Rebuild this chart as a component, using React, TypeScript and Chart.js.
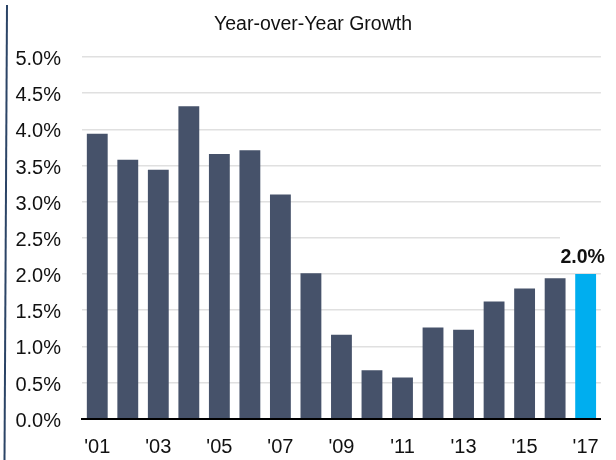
import React, { useEffect, useRef } from "react";
import { Chart, registerables } from "chart.js";

Chart.register(...registerables);

const categories = ["'01", "'02", "'03", "'04", "'05", "'06", "'07", "'08", "'09", "'10", "'11", "'12", "'13", "'14", "'15", "'16", "'17"];
const growth = [3.94, 3.58, 3.44, 4.32, 3.66, 3.71, 3.10, 2.01, 1.16, 0.67, 0.57, 1.26, 1.23, 1.62, 1.80, 1.94, 2.0];
const yTicks = [0, 0.5, 1, 1.5, 2, 2.5, 3, 3.5, 4, 4.5, 5];
const titleText = "Year-over-Year Growth";
const highlightLabel = "2.0%";

const BAR = "#46526A";
const HIGHLIGHT = "#00AEEF";
const FONT = "'Liberation Sans', Arial, sans-serif";

export default function App() {
  const ref = useRef<HTMLCanvasElement | null>(null);

  useEffect(() => {
    if (!ref.current) return;
    const colors = growth.map((_, i) => (i === growth.length - 1 ? HIGHLIGHT : BAR));

    const decor = {
      id: "decor",
      beforeDatasetsDraw(chart: any) {
        const ctx = chart.ctx;
        const meta = chart.getDatasetMeta(0);
        const bar = meta.data[meta.data.length - 1];
        ctx.save();
        ctx.fillStyle = "#ffffff";
        ctx.fillRect(560, bar.y - 42, 56, 34);
        ctx.restore();
      },
      afterDraw(chart: any) {
        const ctx = chart.ctx;
        ctx.save();
        // title
        ctx.fillStyle = "#111111";
        ctx.font = `19.5px ${FONT}`;
        ctx.textAlign = "center";
        ctx.textBaseline = "alphabetic";
        ctx.fillText(titleText, 313, 29.5);
        // value label
        const meta = chart.getDatasetMeta(0);
        const bar = meta.data[meta.data.length - 1];
        ctx.font = `bold 19.5px ${FONT}`;
        ctx.textAlign = "center";
        ctx.textBaseline = "alphabetic";
        ctx.fillText(highlightLabel, bar.x - 3, bar.y - 11.5);
        // left rule
        ctx.strokeStyle = "#2B4466";
        ctx.lineWidth = 2;
        ctx.beginPath();
        ctx.moveTo(7, 5);
        ctx.lineTo(4.5, 460);
        ctx.stroke();
        ctx.restore();
      },
    };

    const chart = new Chart(ref.current, {
      type: "bar",
      data: {
        labels: categories,
        datasets: [
          {
            data: growth,
            backgroundColor: colors,
            borderWidth: 0,
            barPercentage: 0.683,
            categoryPercentage: 1,
          },
        ],
      },
      options: {
        animation: false,
        responsive: false,
        maintainAspectRatio: false,
        layout: { padding: { left: 0, right: 11, top: 57, bottom: 0 } },
        plugins: { legend: { display: false }, tooltip: { enabled: false }, title: { display: false } },
        scales: {
          x: {
            grid: { display: false, drawTicks: false },
            border: { display: true, color: "#000000", width: 2 },
            ticks: {
              autoSkip: false,
              maxRotation: 0,
              padding: 17,
              color: "#111111",
              font: { family: FONT, size: 20 },
              callback: (_v: any, i: number) => (i % 2 === 0 ? categories[i] : ""),
            },
            afterFit: (s: any) => {
              s.height = 41.3;
            },
          },
          y: {
            min: 0,
            max: 5,
            afterBuildTicks: (s: any) => {
              s.ticks = yTicks.map((v) => ({ value: v }));
            },
            grid: { color: "#E0E0E0", lineWidth: 1.5, drawTicks: false },
            border: { display: false },
            ticks: {
              padding: 21,
              labelOffset: 2.5,
              color: "#111111",
              font: { family: FONT, size: 20 },
              callback: (v: any) => Number(v).toFixed(1) + "%",
            },
            afterFit: (s: any) => {
              s.width = 82;
            },
          },
        },
      },
      plugins: [decor],
    });
    return () => chart.destroy();
  }, []);

  return (
    <div style={{ position: "absolute", left: 0, top: 0, width: 616, height: 460, background: "#fff" }}>
      <canvas ref={ref} width={616} height={460} style={{ display: "block", width: 616, height: 460 }} />
    </div>
  );
}
